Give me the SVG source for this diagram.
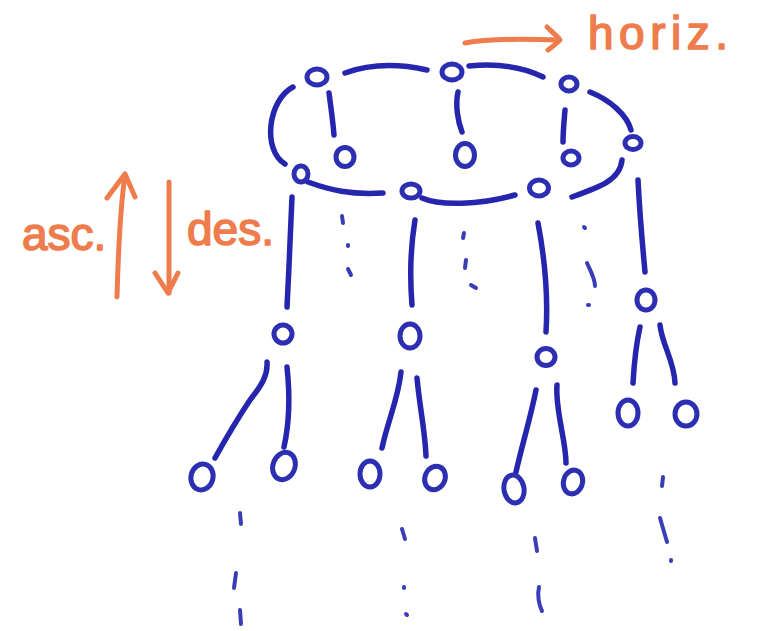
<svg xmlns="http://www.w3.org/2000/svg" width="760" height="631" viewBox="0 0 760 631">
<style>
.n{fill:none;stroke:#2c2fb2;stroke-width:5}
.e{fill:none;stroke:#2526ad;stroke-width:5.5;stroke-linecap:round}
.d{fill:none;stroke:#3a3db8;stroke-width:4;stroke-linecap:round}
.o{fill:none;stroke:#ef7c4c;stroke-width:5;stroke-linecap:round;stroke-linejoin:round}
.t{fill:#ef7c4c;stroke:#ef7c4c;stroke-width:1.6;stroke-linejoin:round;font-family:"Liberation Sans",Arial,sans-serif;font-size:46px}
</style>
<rect width="760" height="631" fill="#fff"/>
<g id="connectors">
<path class="e" d="M345,73 C370,64 400,64 427,70"/>
<path class="e" d="M469,66 C500,63 525,68 543,77"/>
<path class="e" d="M590,92 C610,100 627,115 631,130"/>
<path class="e" d="M293,87 C268,100 262,150 285,164"/>
<path class="e" d="M308,182 C330,190 350,195 383,193"/>
<path class="e" d="M422,198 C440,206 480,205 515,195"/>
<path class="e" d="M572,197 C600,187 620,180 622,160"/>
<path class="e" d="M329,93 C331,108 333,122 334,135"/>
<path class="e" d="M458,92 C455,105 458,122 462,132"/>
<path class="e" d="M565,110 C564,122 563,132 563,142"/>
<path class="e" d="M292,197 C290,240 289,270 287,307"/>
<path class="e" d="M415,220 C410,250 410,280 412,305"/>
<path class="e" d="M538,223 C545,260 548,300 546,332"/>
<path class="e" d="M638,180 C640,220 643,250 645,272"/>
<path class="e" d="M267,362 C268,375 262,385 250,400 C238,418 225,440 215,458"/>
<path class="e" d="M287,367 C290,395 290,420 284,447"/>
<path class="e" d="M401,372 C398,400 388,420 382,448"/>
<path class="e" d="M417,378 C420,410 425,430 426,456"/>
<path class="e" d="M536,390 C530,420 522,445 516,472"/>
<path class="e" d="M557,385 C555,410 566,440 566,463"/>
<path class="e" d="M640,327 C636,345 634,365 633,383"/>
<path class="e" d="M660,325 C662,345 674,360 675,383"/>
<g id="continuations">
<path class="d" d="M342,216 L343,223"/><path class="d" d="M348,245 L348,246"/><path class="d" d="M348,269 L351,275"/>
<path class="d" d="M464,233 L463,238"/><path class="d" d="M466,260 L465,268"/><path class="d" d="M471,285 L476,288"/>
<path class="d" d="M584,227 L585,228"/><path class="d" d="M587,263 C590,270 595,278 595,286"/><path class="d" d="M588,305 L589,305"/>
<path class="d" d="M663,477 L662,486"/><path class="d" d="M660,518 L667,542"/><path class="d" d="M671,560 L671,561"/>
<path class="d" d="M240,513 L241,524"/><path class="d" d="M236,573 L234,588"/><path class="d" d="M240,610 L241,624"/>
<path class="d" d="M402,529 L405,539"/><path class="d" d="M404,587 L404,588"/><path class="d" d="M406,614 L407,615"/>
<path class="d" d="M535,538 L537,551"/><path class="d" d="M539,587 C537,595 539,605 542,611"/>
</g>
</g>
<g id="n-top-1"><ellipse class="n" cx="317" cy="77" rx="10" ry="8"/></g>
<g id="n-top-2"><ellipse class="n" cx="452" cy="72" rx="10" ry="8"/></g>
<g id="n-top-3"><ellipse class="n" cx="569" cy="84" rx="8" ry="7"/></g>
<g id="n-top-4"><ellipse class="n" cx="633" cy="143" rx="8" ry="6.5"/></g>
<g id="n-top-5"><ellipse class="n" cx="539" cy="188" rx="9.5" ry="8"/></g>
<g id="n-top-6"><ellipse class="n" cx="411" cy="191" rx="9" ry="7"/></g>
<g id="n-top-7"><ellipse class="n" cx="301" cy="174" rx="7" ry="8"/></g>
<g id="n-in-1"><ellipse class="n" cx="345" cy="157" rx="9" ry="9.5"/></g>
<g id="n-in-2"><ellipse class="n" cx="465" cy="155" rx="9.5" ry="11.5"/></g>
<g id="n-in-3"><ellipse class="n" cx="571" cy="158" rx="8" ry="7"/></g>
<g id="n-mid-1"><ellipse class="n" cx="283" cy="334" rx="9" ry="9"/></g>
<g id="n-mid-2"><ellipse class="n" cx="410" cy="336" rx="10" ry="12"/></g>
<g id="n-mid-3"><ellipse class="n" cx="546" cy="357" rx="9" ry="8.5"/></g>
<g id="n-mid-4"><ellipse class="n" cx="646" cy="300" rx="9" ry="10"/></g>
<g id="n-leaf-1"><ellipse class="n" cx="202" cy="477" rx="11" ry="13" transform="rotate(15 202 477)"/></g>
<g id="n-leaf-2"><ellipse class="n" cx="284" cy="466" rx="11" ry="14" transform="rotate(20 284 466)"/></g>
<g id="n-leaf-3"><ellipse class="n" cx="370" cy="474" rx="10" ry="13"/></g>
<g id="n-leaf-4"><ellipse class="n" cx="435" cy="478" rx="10" ry="12" transform="rotate(25 435 478)"/></g>
<g id="n-leaf-5"><ellipse class="n" cx="514" cy="489" rx="10" ry="14" transform="rotate(-10 514 489)"/></g>
<g id="n-leaf-6"><ellipse class="n" cx="573" cy="482" rx="9.5" ry="12" transform="rotate(15 573 482)"/></g>
<g id="n-leaf-7"><ellipse class="n" cx="628" cy="413" rx="10" ry="13"/></g>
<g id="n-leaf-8"><ellipse class="n" cx="686" cy="414" rx="11" ry="12"/></g>
<g id="annotations">
<path class="o" d="M465,43 C490,38 530,39 558,40"/>
<path class="o" d="M547,27 C552,32 557,36 560,40 C556,44 552,47 548,50"/>
<text class="t" x="588" y="49" font-size="50" textLength="140" lengthAdjust="spacing">horiz.</text>
<path class="o" d="M117,297 C118,260 120,210 125,175"/>
<path class="o" d="M107,198 L125,174 L135,197"/>
<path class="o" d="M169,182 L169,293"/>
<path class="o" d="M155,273 L168,293 L178,273"/>
<text class="t" x="22" y="250">asc.</text>
<text class="t" x="187" y="245">des.</text>
</g>
</svg>
